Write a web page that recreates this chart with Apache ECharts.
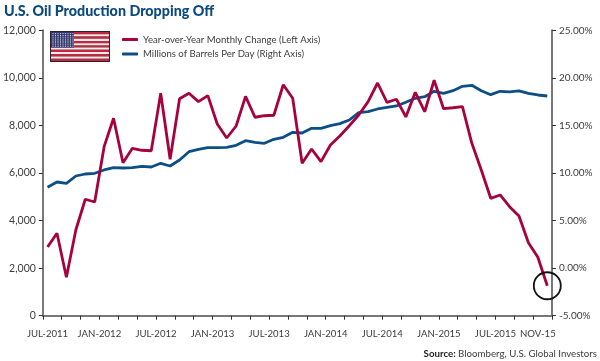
<!DOCTYPE html>
<html>
<head>
<meta charset="utf-8">
<style>html,body{margin:0;padding:0;background:#fff}#c{width:600px;height:361px}</style>
<script src="https://cdn.jsdelivr.net/npm/echarts@6/dist/echarts.min.js"></script>
</head>
<body>
<div id="c"></div>
<script>
const yoyChange = [2.22,3.66,-0.96,4.01,7.24,6.95,12.77,15.75,11.08,12.6,12.39,12.34,18.38,11.44,17.81,18.38,17.5,18.13,15.15,13.68,14.94,18.06,15.86,16.02,16.07,19.28,17.85,11.02,12.52,11.19,12.94,13.89,14.97,16.1,17.5,19.46,17.43,17.75,15.89,18.48,16.44,19.75,16.76,16.86,16.97,13.12,10.32,7.34,7.69,6.46,5.48,2.67,1.14,-1.85];
const barrels = [5400,5622,5567,5874,5958,5988,6127,6223,6211,6223,6282,6253,6408,6295,6547,6896,6997,7064,7064,7081,7165,7359,7291,7249,7418,7502,7712,7682,7880,7880,7990,8074,8229,8536,8578,8692,8763,8818,8973,9142,9209,9436,9352,9461,9646,9688,9461,9293,9436,9407,9449,9352,9280,9238];
const xLabelPositions = [0.5,6,12,18,24,30,36,42,48,52.5];
const xLabels = ['JUL-2011','JAN-2012','JUL-2012','JAN-2013','JUL-2013','JAN-2014','JUL-2014','JAN-2015','JUL-2015','NOV-15'];
const seriesNames = ['Year-over-Year Monthly Change (Left Axis)','Millions of Barrels Per Day (Right Axis)'];
const RED = '#a5023e', BLUE = '#0b4f86', GREY = '#77787b', TXT = '#3c3c3e', FONT = 'Lato, "Open Sans", sans-serif';

const flag = [{type:'rect',shape:{x:50,y:31,width:60,height:31},style:{fill:'#2a2226'}}];
for (let i = 0; i < 13; i++) flag.push({type:'rect',shape:{x:51,y:32 + i*29/13,width:58,height:29/13},style:{fill:i%2 ? '#f4e9ea' : '#c4263f'}});
flag.push({type:'rect',shape:{x:51,y:32,width:23,height:15.6},style:{fill:'#33386e'}});
for (let r = 0; r < 7; r++) for (let k = 0; k < 9; k++)
  flag.push({type:'circle',shape:{cx:53 + k*2.5,cy:33.6 + r*2.1,r:0.65},style:{fill:'#d9dbe8'}});

const chart = echarts.init(document.getElementById('c'), null, {renderer:'canvas'});
const sharedAxis = {
  axisLine:{show:true,onZero:false,lineStyle:{color:GREY,width:2}},
  axisTick:{show:true,length:4,lineStyle:{color:'#333',width:1}},
  splitLine:{show:false},
  axisLabel:{color:TXT,fontFamily:FONT,fontSize:10,margin:7}
};
chart.setOption({
  animation:false,
  backgroundColor:'#fff',
  textStyle:{fontFamily:FONT},
  title:[{
    text:'U.S. Oil Production Dropping Off',left:4,top:4,padding:0,
    textStyle:{color:'#0b4a7e',fontFamily:FONT,fontWeight:900,fontSize:14.3}
  },{
    text:'{b|Source:} Bloomberg, U.S. Global Investors',right:3,top:349,padding:0,
    textStyle:{rich:{b:{fontWeight:'bold',fontSize:9.7,color:'#222',fontFamily:FONT}},fontSize:9.7,color:TXT,fontFamily:FONT,fontWeight:'normal'}
  }],
  legend:{
    orient:'vertical',left:122,top:34.5,padding:0,itemWidth:16,itemHeight:3,itemGap:4.5,icon:'roundRect',
    data:seriesNames,
    textStyle:{color:TXT,fontFamily:FONT,fontSize:9.6,lineHeight:10}
  },
  grid:{left:42,right:48,top:30.3,height:285.4,containLabel:false},
  xAxis:{
    ...sharedAxis,type:'value',min:0,max:54,interval:2,
    axisLabel:{...sharedAxis.axisLabel,fontSize:9.6,margin:13,customValues:xLabelPositions,
      formatter:v=>xLabels[xLabelPositions.indexOf(v)] ?? ''}
  },
  yAxis:[
    {...sharedAxis,type:'value',position:'left',min:0,max:12000,interval:2000,
      axisLabel:{...sharedAxis.axisLabel,fontSize:10.5,formatter:v=>v.toLocaleString('en-US')}},
    {...sharedAxis,type:'value',position:'right',min:-5,max:25,interval:5,
      axisLabel:{...sharedAxis.axisLabel,formatter:v=>v.toFixed(2)+'%'}}
  ],
  series:[
    {name:seriesNames[1],type:'line',xAxisIndex:0,yAxisIndex:0,showSymbol:false,z:2,
      data:barrels.map((v,i)=>[i+0.5,v]),lineStyle:{color:BLUE,width:2.8},itemStyle:{color:BLUE}},
    {name:seriesNames[0],type:'line',xAxisIndex:0,yAxisIndex:1,showSymbol:false,z:3,
      data:yoyChange.map((v,i)=>[i+0.5,v]),lineStyle:{color:RED,width:2.8},itemStyle:{color:RED},
      markPoint:{symbol:'circle',symbolSize:27,silent:true,label:{show:false},
        itemStyle:{color:'transparent',borderColor:'#111',borderWidth:1.8},
        data:[{coord:[53.5,yoyChange[53]]}]}}
  ],
  graphic:flag
});
</script>
</body>
</html>
